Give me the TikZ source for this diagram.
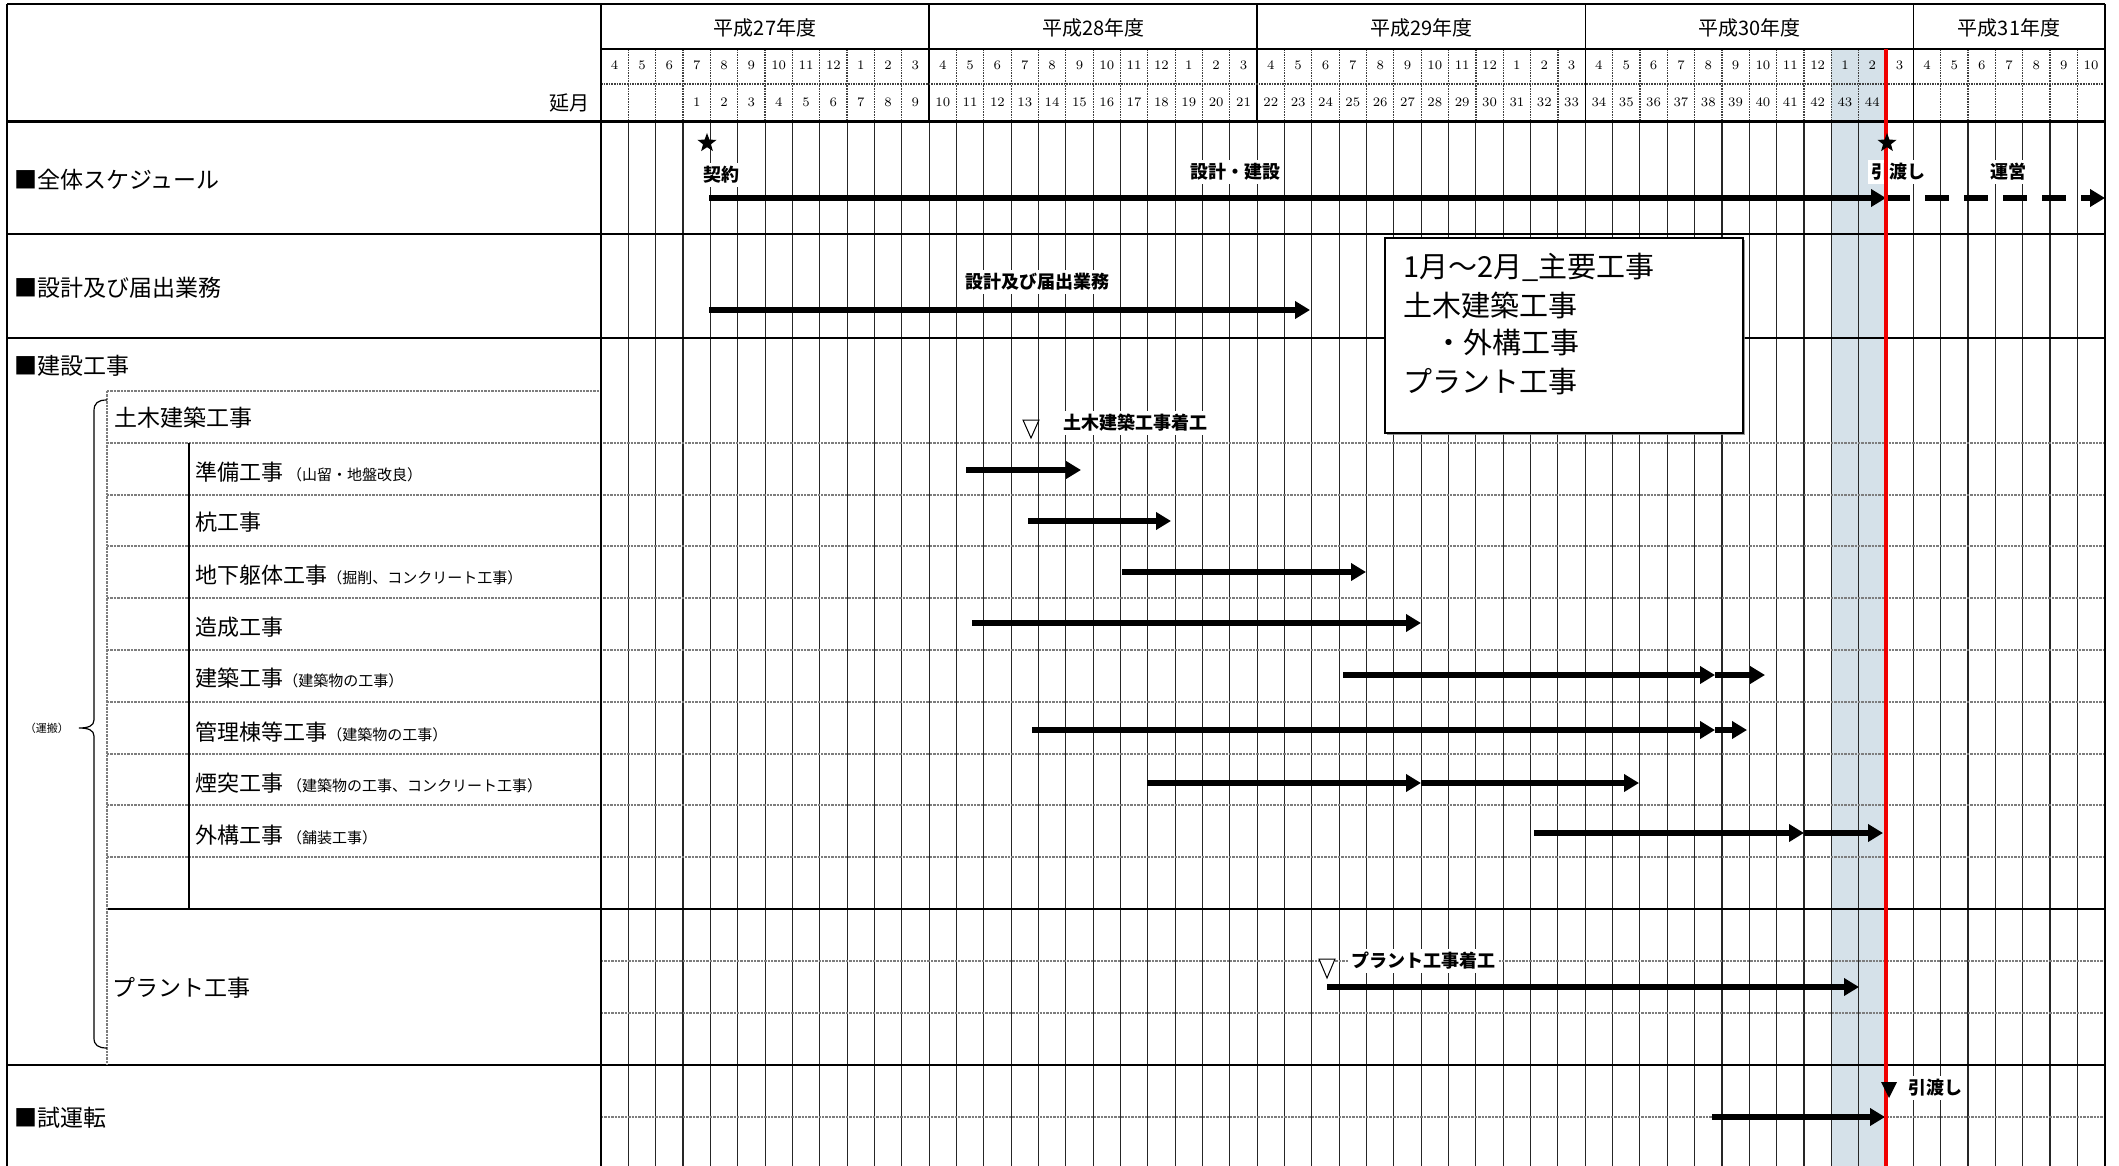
\documentclass[tikz,border=0pt]{standalone}
\usepackage{fontspec}
\newfontfamily\jp{Noto Sans CJK JP}
\usetikzlibrary{arrows.meta,shapes.geometric,shadows}
\definecolor{shadecol}{RGB}{213,225,233}
\definecolor{rowgray}{RGB}{125,125,125}
\definecolor{redline}{RGB}{240,0,0}
\newcommand\smtxt[1]{{\fontsize{7.5}{9}\selectfont #1}}
\begin{document}
\begin{tikzpicture}[x=0.5pt,y=-0.5pt,
  mgrid/.style={line width=0.55pt, black!85},
  hdot/.style={line width=0.6pt, black!75, dash pattern=on 0.8pt off 0.5pt},
  rowline/.style={line width=1pt, rowgray, dash pattern=on 1.2pt off 0.5pt},
  secline/.style={line width=1.1pt, black},
  thinline/.style={line width=0.7pt, black},
  gbar/.style={line width=2.6pt, -{Triangle[length=7.5pt,width=8.5pt]}},
  lbl/.style={font=\jp\bfseries\fontsize{9}{10}\selectfont, fill=white, inner sep=1.5pt},
  seclbl/.style={font=\jp\fontsize{11.5}{13}\selectfont, anchor=west, inner sep=0pt},
  sublbl/.style={font=\jp\fontsize{11}{13}\selectfont, anchor=west, inner sep=0pt},
  mnum/.style={font=\fontsize{6.5}{7}\selectfont, inner sep=0pt},
  yearlbl/.style={font=\jp\fontsize{10}{12}\selectfont, inner sep=0pt},
  boxtxt/.style={font=\jp\fontsize{14.5}{17}\selectfont, anchor=west, inner sep=0pt},
  starmk/.style={star, star points=5, star point ratio=2.4, fill=black, inner sep=0pt, minimum size=10pt},
  opentri/.style={line width=0.5pt, draw=black, fill=white},
]
\useasboundingbox (0,0) rectangle (2119,1166);
\fill[white] (0,0) rectangle (2119,1166);
% shaded months (H30 Jan-Feb)
\fill[shadecol] (1831.3,49) rectangle (1886,1166);
% month grid
\foreach \i in {1,...,54} {
  \pgfmathsetmacro{\xx}{601+27.34*\i}
  \draw[hdot] (\xx,49) -- (\xx,122);
  \draw[mgrid] (\xx,122) -- (\xx,1166);
}
\foreach \xx in {929.08,1257.16,1585.24,1913.32} \draw[thinline] (\xx,4) -- (\xx,122);
% horizontal lines
\draw[secline] (7,4) -- (2105,4);
\draw[thinline] (601,49) -- (2105,49);
\draw[hdot] (601,84) -- (2105,84);
\draw[line width=1.5pt] (7,122) -- (2105,122);
\draw[secline] (7,234) -- (2105,234);
\draw[secline] (7,338) -- (2105,338);
\draw[rowline] (107,391) -- (601,391);
\foreach \yy in {442.8,494.6,546.4,598.2,650,701.8,753.6,805.4,857.2} \draw[rowline] (107,\yy) -- (2105,\yy);
\draw[secline] (107,909) -- (2105,909);
\foreach \yy in {961,1013,1117} \draw[rowline] (601,\yy) -- (2105,\yy);
\draw[line width=1.4pt] (7,1065) -- (2105,1065);
% vertical frame lines
\draw[secline] (7,4) -- (7,1166);
\draw[secline] (601,4) -- (601,1166);
\draw[thinline] (2105,4) -- (2105,1166);
\draw[rowline] (107,391) -- (107,1065);
\draw[thinline] (189,443) -- (189,909);
% header texts
\node[yearlbl] (y27) at (765.04,28) {平成27年度};
\node[yearlbl] (y28) at (1093.12,28) {平成28年度};
\node[yearlbl] (y29) at (1421.2,28) {平成29年度};
\node[yearlbl] (y30) at (1749.28,28) {平成30年度};
\node[yearlbl] (y31) at (2009.01,28) {平成31年度};
\foreach \i in {0,...,54} {
  \pgfmathtruncatemacro{\m}{mod(\i+3,12)+1}
  \pgfmathsetmacro{\xx}{601+27.34*(\i+0.5)}
  \node[mnum] (mn\i) at (\xx,65) {\m};
}
\foreach \i in {3,...,46} {
  \pgfmathtruncatemacro{\n}{\i-2}
  \pgfmathsetmacro{\xx}{601+27.34*(\i+0.5)}
  \node[mnum] (en\i) at (\xx,102) {\n};
}
\node[yearlbl, anchor=east] (enm) at (590,103) {延月};
% memo box
\node[draw=black, line width=1pt, fill=white, drop shadow={shadow xshift=1pt, shadow yshift=-1pt, fill=black!50, opacity=0.8}, anchor=north west, minimum width=179pt, minimum height=97.5pt, inner sep=0pt] (memo) at (1384,237) {};
\node[boxtxt] (m1) at (1403,267) {1月～2月\_主要工事};
\node[boxtxt] (m2) at (1403,305) {土木建築工事};
\node[boxtxt] (m3) at (1434,343) {・外構工事};
\node[boxtxt] (m4) at (1403,382) {プラント工事};
% arrows
\coordinate (a1s) at (709,198); \coordinate (a1m) at (1886,198); \coordinate (a1e) at (2105,198);
\draw[gbar] (a1s) -- (a1m);
\draw[gbar, dash pattern=on 12pt off 7.5pt] (a1m) -- (a1e);
\coordinate (a2s) at (709,310); \coordinate (a2e) at (1310,310);
\draw[gbar] (a2s) -- (a2e);
\coordinate (a3s) at (966,470); \coordinate (a3e) at (1081,470);
\draw[gbar] (a3s) -- (a3e);
\coordinate (a4s) at (1028,521); \coordinate (a4e) at (1171,521);
\draw[gbar] (a4s) -- (a4e);
\coordinate (a5s) at (1122,572); \coordinate (a5e) at (1366,572);
\draw[gbar] (a5s) -- (a5e);
\coordinate (a6s) at (972,623); \coordinate (a6e) at (1421,623);
\draw[gbar] (a6s) -- (a6e);
\coordinate (a7s) at (1343,675); \coordinate (a7m) at (1715,675); \coordinate (a7e) at (1765,675);
\draw[gbar] (a7s) -- (a7m); \draw[gbar] (a7m) -- (a7e);
\coordinate (a8s) at (1032,730); \coordinate (a8m) at (1715,730); \coordinate (a8e) at (1747,730);
\draw[gbar] (a8s) -- (a8m); \draw[gbar] (a8m) -- (a8e);
\coordinate (a9s) at (1147,783); \coordinate (a9m) at (1421,783); \coordinate (a9e) at (1639,783);
\draw[gbar] (a9s) -- (a9m); \draw[gbar] (a9m) -- (a9e);
\coordinate (a10s) at (1534,833); \coordinate (a10m) at (1804,833); \coordinate (a10e) at (1883,833);
\draw[gbar] (a10s) -- (a10m); \draw[gbar] (a10m) -- (a10e);
\coordinate (a11s) at (1327,987); \coordinate (a11e) at (1859,987);
\draw[gbar] (a11s) -- (a11e);
\coordinate (a12s) at (1712,1117); \coordinate (a12e) at (1885,1117);
\draw[gbar] (a12s) -- (a12e);
% chart labels
\node[lbl] (l1) at (721,175) {契約};
\node[lbl] (l2) at (1235,172) {設計・建設};
\node[lbl] (l3) at (1898,172) {引渡し};
\node[lbl] (l4) at (2008,172) {運営};
\node[lbl] (l5) at (1037,282) {設計及び届出業務};
\node[lbl] (l6) at (1135,423) {土木建築工事着工};
\node[lbl] (l7) at (1423,961) {プラント工事着工};
\node[lbl] (l8) at (1935,1088) {引渡し};
% red handover line
\draw[redline, line width=1.6pt] (1886,49) -- (1886,1166);
% markers
\node[starmk] (st1) at (707,143) {};
\node[starmk] (st2) at (1887,143) {};
\coordinate (t1) at (1031,420);
\draw[opentri] (t1) ++(-8,0) -- ++(16,0) -- ++(-8,18) -- cycle;
\coordinate (t2) at (1327,959);
\draw[opentri] (t2) ++(-8,0) -- ++(16,0) -- ++(-8,19) -- cycle;
\coordinate (t3) at (1889,1082);
\fill[black] (t3) ++(-8,0) -- ++(16,0) -- ++(-8,16) -- cycle;
% brace
\coordinate (bt) at (107,400);
\coordinate (bb) at (107,1048);
\coordinate (btip) at (79,728);
\draw[line width=0.6pt] (bt) .. controls (98,400) and (94,403) .. (94,411) -- (94,720)
  .. controls (94,726) and (88,728) .. (btip)
  .. controls (88,728) and (94,730) .. (94,736) -- (94,1038)
  .. controls (94,1045) and (98,1048) .. (bb);
% left labels
\node[seclbl] (s1) at (14,180) {■全体スケジュール};
\node[seclbl] (s2) at (14,288) {■設計及び届出業務};
\node[seclbl] (s3) at (14,366) {■建設工事};
\node[seclbl] (s4) at (114,418) {土木建築工事};
\node[sublbl] (r1) at (195,472) {準備工事\,\smtxt{（山留・地盤改良）}};
\node[sublbl] (r2) at (195,522) {杭工事};
\node[sublbl] (r3) at (195,575) {地下躯体工事\smtxt{（掘削、コンクリート工事）}};
\node[sublbl] (r4) at (195,627) {造成工事};
\node[sublbl] (r5) at (195,678) {建築工事\smtxt{（建築物の工事）}};
\node[sublbl] (r6) at (195,732) {管理棟等工事\smtxt{（建築物の工事）}};
\node[sublbl] (r7) at (195,783) {煙突工事\,\smtxt{（建築物の工事、コンクリート工事）}};
\node[sublbl] (r8) at (195,835) {外構工事\,\smtxt{（舗装工事）}};
\node[seclbl] (s5) at (112,988) {プラント工事};
\node[seclbl] (s6) at (14,1118) {■試運転};
\node[font=\jp\fontsize{5.5}{7}\selectfont, inner sep=0pt] (unpan) at (47,728) {（運搬）};
\end{tikzpicture}
\end{document}
